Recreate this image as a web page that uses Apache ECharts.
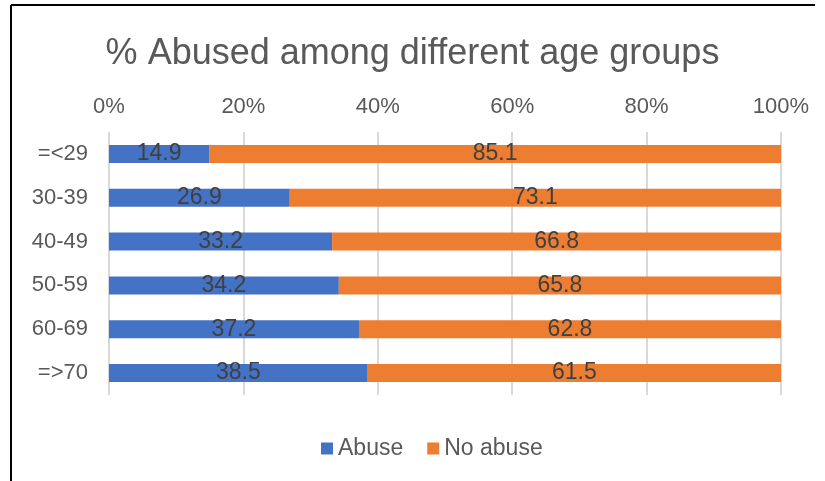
<!DOCTYPE html>
<html>
<head>
<meta charset="utf-8">
<script src="https://cdn.jsdelivr.net/npm/echarts@6/dist/echarts.min.js"></script>
<style>
  html, body { margin: 0; padding: 0; background: #fff; }
  #chart { width: 825px; height: 481px; }
</style>
</head>
<body>
<div id="chart"></div>
<script>
var ageGroups = ['=<29', '30-39', '40-49', '50-59', '60-69', '=>70'];
var abuse = [14.9, 26.9, 33.2, 34.2, 37.2, 38.5];
var noAbuse = [85.1, 73.1, 66.8, 65.8, 62.8, 61.5];
var tickValues = [0, 20, 40, 60, 80, 100];

var chart = echarts.init(document.getElementById('chart'));
var font = 'Liberation Sans, Arial, sans-serif';

var labelStyle = {
    show: true,
    position: 'inside',
    color: '#404040',
    fontSize: 23,
    fontFamily: font
};

option = {
    animation: false,
    title: {
        text: '% Abused among different age groups',
        left: 'center',
        top: 31,
        textStyle: { color: '#595959', fontSize: 36, fontWeight: 'normal', fontFamily: font }
    },
    legend: {
        bottom: 16,
        left: 316,
        itemWidth: 12,
        itemHeight: 12,
        itemGap: 24,
        icon: 'rect',
        textStyle: { color: '#595959', fontSize: 23, fontFamily: font },
        data: ['Abuse', 'No abuse']
    },
    grid: { left: 109, right: 44, top: 132, bottom: 86 },
    xAxis: {
        type: 'value',
        position: 'top',
        min: 0,
        max: 100,
        interval: 20,
        axisLine: { show: false },
        axisTick: { show: false },
        axisLabel: {
            color: '#595959', fontSize: 22, fontFamily: font, margin: 14,
            formatter: function (v) { return tickValues.indexOf(v) >= 0 ? v + '%' : ''; }
        },
        splitLine: { lineStyle: { color: '#d9d9d9', width: 2 } }
    },
    yAxis: {
        type: 'category',
        inverse: true,
        data: ageGroups,
        axisLine: { show: false },
        axisTick: { show: false },
        axisLabel: { color: '#595959', fontSize: 22, fontFamily: font, margin: 21 }
    },
    series: [
        {
            name: 'Abuse',
            type: 'bar',
            stack: 'total',
            barWidth: '41%',
            itemStyle: { color: '#4472c4' },
            label: labelStyle,
            data: abuse
        },
        {
            name: 'No abuse',
            type: 'bar',
            stack: 'total',
            barWidth: '41%',
            itemStyle: { color: '#ed7d31' },
            label: labelStyle,
            data: noAbuse
        }
    ],
    graphic: [
        { type: 'line', shape: { x1: 11, y1: 5, x2: 815, y2: 5 }, style: { stroke: '#000', lineWidth: 2 } },
        { type: 'line', shape: { x1: 11, y1: 5, x2: 11, y2: 481 }, style: { stroke: '#000', lineWidth: 2 } }
    ]
};

chart.setOption(option);
</script>
</body>
</html>
